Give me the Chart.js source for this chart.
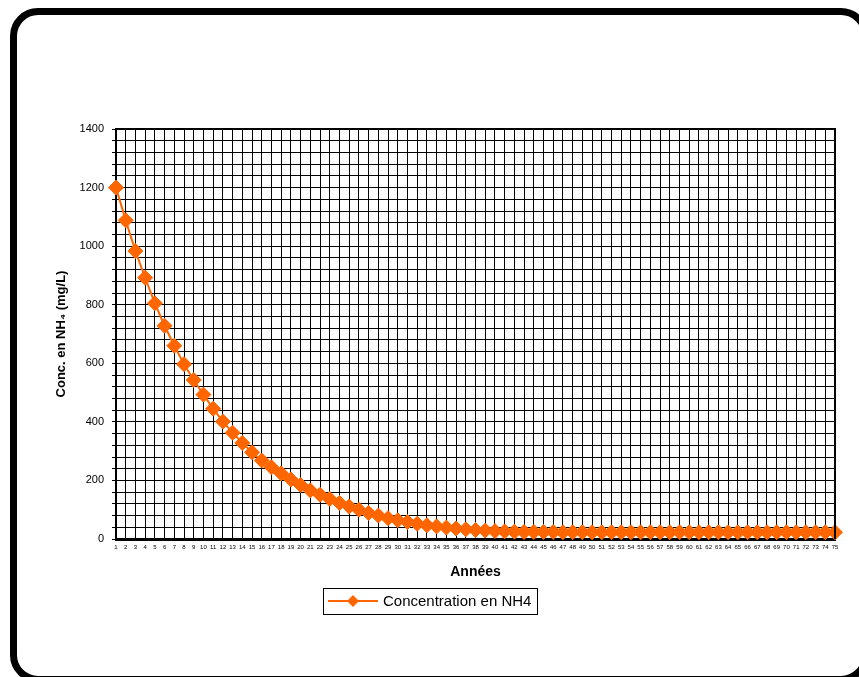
<!DOCTYPE html>
<html>
<head>
<meta charset="utf-8">
<script src="https://cdn.jsdelivr.net/npm/chart.js@4/dist/chart.umd.min.js"></script>
<style>
html,body{margin:0;padding:0;background:#fff;}
#wrap{position:relative;width:859px;height:677px;}
</style>
</head>
<body>
<div id="wrap"><canvas id="c" width="859" height="677"></canvas></div>
<script>
const years = ['1','2','3','4','5','6','7','8','9','10','11','12','13','14','15','16','17','18','19','20',
  '21','22','23','24','25','26','27','28','29','30','31','32','33','34','35','36','37','38','39','40',
  '41','42','43','44','45','46','47','48','49','50','51','52','53','54','55','56','57','58','59','60',
  '61','62','63','64','65','66','67','68','69','70','71','72','73','74','75'];
const concNH4 = [1200,1088,983,892,805,728,660,597,543,493,
  445,401,363,328,296,268,245,224,203,184,
  166,151,137,123,111,100,89,80,71,64,
  58,52,47,43,39,36,33,31,29,27,
  26,25,24,24,24,24,23,23,23,23,
  23,23,23,23,23,23,23,23,23,23,
  23,23,23,23,23,23,23,23,23,23,
  23,23,23,23,23];
const seriesLabel = 'Concentration en NH4';
const yTitle = 'Conc. en NH\u2084 (mg/L)';
const xTitle = 'Ann\u00e9es';

const ORANGE = '#FF6600';
const FONT = "'Liberation Sans', Arial, sans-serif";

const framePlugin = {
  id: 'frame',
  beforeDraw(chart) {
    const ctx = chart.ctx;
    ctx.save();
    ctx.fillStyle = '#fff';
    ctx.fillRect(0, 0, chart.width, chart.height);
    ctx.strokeStyle = '#000';
    ctx.lineWidth = 7;
    ctx.beginPath();
    ctx.roundRect(13.5, 11.5, 852, 668, 24.5);
    ctx.stroke();
    ctx.restore();
  },
  afterDatasetsDraw(chart) {
    const a = chart.chartArea, ctx = chart.ctx;
    ctx.save();
    ctx.strokeStyle = '#000';
    ctx.lineWidth = 2;
    ctx.beginPath();
    ctx.moveTo(a.left, a.top);
    ctx.lineTo(a.right, a.top);
    ctx.lineTo(a.right, a.bottom);
    ctx.stroke();
    ctx.restore();
  },
  afterDraw(chart) {
    const ctx = chart.ctx;
    const ds = chart.data.datasets[0];
    ctx.save();
    ctx.strokeStyle = '#000';
    ctx.lineWidth = 1;
    ctx.strokeRect(323.5, 588.5, 214, 26);
    ctx.strokeStyle = ORANGE;
    ctx.lineWidth = 2;
    ctx.beginPath();
    ctx.moveTo(328, 601);
    ctx.lineTo(378, 601);
    ctx.stroke();
    ctx.fillStyle = ORANGE;
    ctx.beginPath();
    ctx.moveTo(353, 595);
    ctx.lineTo(359, 601);
    ctx.lineTo(353, 607);
    ctx.lineTo(347, 601);
    ctx.closePath();
    ctx.fill();
    ctx.fillStyle = '#000';
    ctx.font = '15px ' + FONT;
    ctx.textBaseline = 'middle';
    ctx.textAlign = 'left';
    ctx.fillText(ds.label, 383, 602);
    ctx.restore();
  }
};

new Chart(document.getElementById('c'), {
  type: 'line',
  data: {
    labels: years,
    datasets: [{
      label: seriesLabel,
      data: concNH4,
      borderColor: ORANGE,
      backgroundColor: ORANGE,
      borderWidth: 2,
      pointStyle: 'rectRot',
      pointRadius: 7.5,
      pointBorderWidth: 1,
      pointBorderColor: ORANGE,
      pointBackgroundColor: ORANGE,
      tension: 0,
      clip: false
    }]
  },
  options: {
    responsive: false,
    animation: false,
    devicePixelRatio: 1,
    layout: { padding: { left: 0, top: 129, right: 24, bottom: 88 } },
    plugins: {
      legend: { display: false },
      tooltip: { enabled: false }
    },
    scales: {
      x: {
        type: 'category',
        offset: false,
        afterFit(s) { s.height = 50; },
        grid: { color: '#000', lineWidth: 1, drawTicks: false },
        border: { display: true, color: '#000', width: 3 },
        ticks: {
          autoSkip: false, maxRotation: 0, minRotation: 0,
          padding: 5, color: '#000',
          font: { family: FONT, size: 6 }
        },
        title: {
          display: true, text: xTitle, color: '#000',
          font: { family: FONT, size: 14, weight: 'bold' },
          padding: { top: 0, bottom: 8 }
        }
      },
      y: {
        min: 0, max: 1400,
        afterFit(s) { s.width = 116; },
        grid: { color: '#000', lineWidth: 1, tickLength: 4, tickColor: '#000' },
        border: { display: true, color: '#000', width: 2 },
        ticks: {
          stepSize: 40, autoSkip: false, padding: 8, color: '#000',
          font: { family: FONT, size: 11 },
          callback: (v) => (v % 200 === 0 ? String(v) : '')
        },
        title: {
          display: true, text: yTitle, color: '#000',
          font: { family: FONT, size: 13, weight: 'bold' },
          padding: { top: 54, bottom: 0 }
        }
      }
    }
  },
  plugins: [framePlugin]
});
</script>
</body>
</html>
